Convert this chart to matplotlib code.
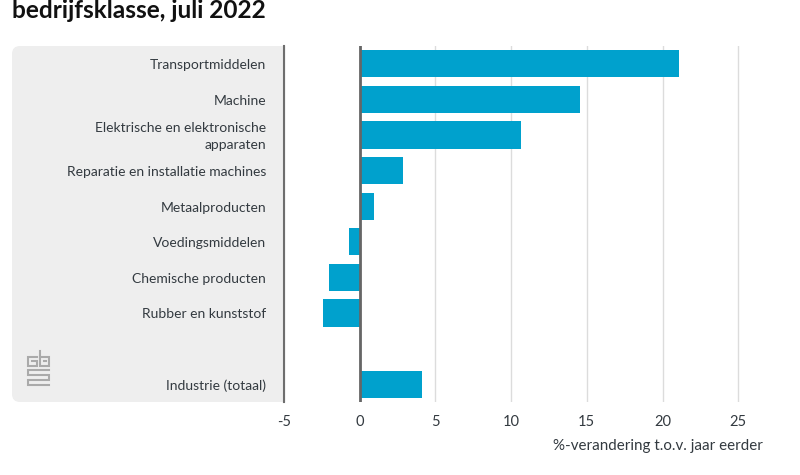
import matplotlib
matplotlib.use("Agg")
from matplotlib import pyplot as plt
from matplotlib.lines import Line2D
from matplotlib.patches import FancyBboxPatch, Rectangle

W, H = 800, 475

categories = [
    "Transportmiddelen",
    "Machine",
    "Elektrische en elektronische\napparaten",
    "Reparatie en installatie machines",
    "Metaalproducten",
    "Voedingsmiddelen",
    "Chemische producten",
    "Rubber en kunststof",
    "",
    "Industrie (totaal)",
]
values = [21.1, 14.55, 10.65, 2.85, 0.95, -0.7, -2.05, -2.4, None, 4.1]
xticks = [-5, 0, 5, 10, 15, 20, 25]

TEXT = "#333a40"
BLUE = "#00a1cd"
plt.rcParams["font.family"] = ["Lato", "DejaVu Sans"]


def px(x, y):
    # pixel position in the reference -> figure fraction
    return x / W, 1 - y / H


fig = plt.figure(figsize=(W / 100, H / 100), dpi=100)

# grey panel behind the labels, rounded on the left only
panel = FancyBboxPatch((12, H - 402), 290, 356, boxstyle="round,pad=0,rounding_size=8",
                       transform=None, facecolor="#eeeeee", edgecolor="none", zorder=0)
fig.add_artist(panel)
panel.set_clip_path(Rectangle((12, H - 402), 272, 356, transform=None))

left, bottom = px(284, 402)
right, top = px(760, 46)
ax = fig.add_axes([left, bottom, right - left, top - bottom])
ax.patch.set_alpha(0)
ax.set_xlim(-5, -5 + (760 - 284) / 15.14)
ax.set_ylim(len(categories) - 0.5, -0.5)

ys = [i for i, v in enumerate(values) if v is not None]
ax.barh(ys, [values[i] for i in ys], height=0.76, color=BLUE, zorder=3)

ax.set_xticks(xticks)
ax.set_xticklabels([str(t) for t in xticks], color=TEXT, fontsize=10.5)
ax.tick_params(axis="x", length=0, pad=9)
ax.tick_params(axis="y", length=0, labelleft=False)
ax.grid(axis="x", color="#dcdcdc", linewidth=1, zorder=1)
ax.set_axisbelow(True)
for s in ["top", "right", "bottom"]:
    ax.spines[s].set_visible(False)
ax.spines["left"].set_color("#6e6e6e")
ax.spines["left"].set_linewidth(1.5)
ax.axvline(0, color="#666666", linewidth=2, zorder=4)

# category labels, right aligned inside the panel
for i, name in enumerate(categories):
    if name:
        ax.annotate(name, xy=(0, i), xycoords=("axes fraction", "data"), xytext=(-18 * 0.72, -1),
                    textcoords="offset points", ha="right", va="center", fontsize=10,
                    color=TEXT, linespacing=1.45)

fig.text(*px(763, 446), "%-verandering t.o.v. jaar eerder", ha="right", va="center",
         fontsize=10.9, color=TEXT)
fig.text(*px(12, 11), "bedrijfsklasse, juli 2022", ha="left", va="center",
         fontsize=17.6, fontweight="bold", color="#111111")

# cbs logo
logo = [
    [(37, 357), (28, 357), (28, 366), (37, 366), (37, 361), (32, 361)],
    [(40, 351), (40, 366), (49, 366), (49, 357), (40, 357)],
    [(44, 361), (46, 361)],
    [(49, 370), (28, 370), (28, 375), (49, 375), (49, 380), (28, 380), (28, 385), (49, 385)],
]
logo_colors = "#aaaaaa"
for seg in logo:
    xs, ys_ = zip(*[px(*p) for p in seg])
    fig.add_artist(Line2D(xs, ys_, color=logo_colors, linewidth=1.5, solid_joinstyle="miter"))

fig.savefig("out.png", dpi=100)
